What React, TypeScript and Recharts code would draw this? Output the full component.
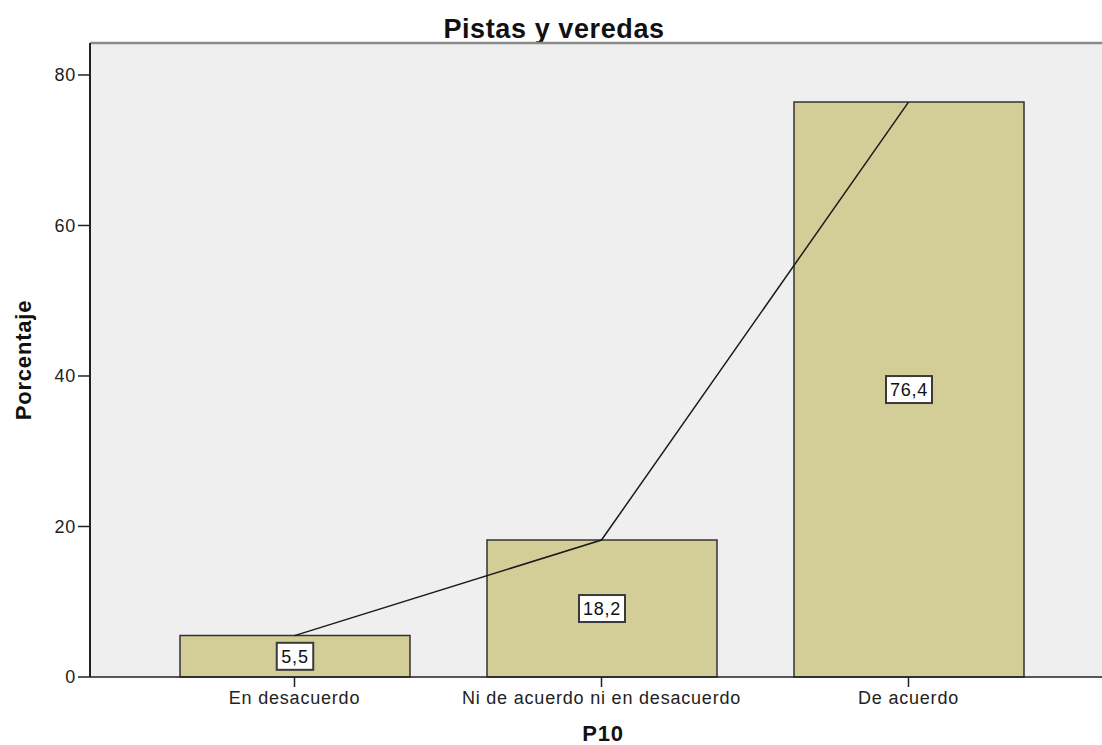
import React from "react";
import {
  Bar,
  CartesianGrid,
  ComposedChart,
  LabelList,
  Line,
  ReferenceLine,
  XAxis,
  YAxis,
} from "recharts";

const categories = ["En desacuerdo", "Ni de acuerdo ni en desacuerdo", "De acuerdo"];
const percents = [5.5, 18.2, 76.4];
const yTicks = [0, 20, 40, 60, 80];
const yMax = 84.25;

const data = categories.map((name, i) => ({ name, value: percents[i] }));

const font = "'Liberation Sans', Arial, sans-serif";
const ink = "#222";

const fmt = (v: number) => v.toFixed(1).replace(".", ",");

function ValueBox(props: any) {
  const { x, y, width, height, value } = props;
  const cx = Number(x) + Number(width) / 2;
  const cy = Number(y) + Number(height) / 2;
  const text = fmt(Number(value));
  const w = text.length * 9.5 + 8;
  const h = 27;
  return (
    <g>
      <rect
        x={cx - w / 2}
        y={cy - h / 2}
        width={w}
        height={h}
        fill="#fff"
        stroke="#3a3a3a"
        strokeWidth={2}
      />
      <text
        x={cx}
        y={cy}
        dy="0.36em"
        textAnchor="middle"
        fontFamily={font}
        fontSize={18}
        letterSpacing={0.8}
        fill="#111"
      >
        {text}
      </text>
    </g>
  );
}

export default function App() {
  return (
    <div style={{ position: "absolute", left: 0, top: 0, width: 1102, height: 745, background: "#fff" }}>
      <div
        style={{
          position: "absolute",
          left: 0,
          width: 1108,
          top: 13,
          textAlign: "center",
          fontFamily: font,
          fontWeight: "bold",
          fontSize: 27,
          letterSpacing: 0.6,
          color: "#111",
          lineHeight: "32px",
        }}
      >
        Pistas y veredas
      </div>
      <ComposedChart
        width={1102}
        height={745}
        data={data}
        margin={{ top: 43, right: 0, bottom: 0, left: 0 }}
        style={{ fontFamily: font }}
      >
        <CartesianGrid fill="#efefef" stroke="none" horizontal={false} vertical={false} />
        <XAxis
          dataKey="name"
          height={68}
          padding={{ left: 51, right: 40 }}
          interval={0}
          tickSize={10}
          tickMargin={4}
          axisLine={{ stroke: ink, strokeWidth: 1.5 }}
          tickLine={{ stroke: ink, strokeWidth: 1.5 }}
          tick={{ fill: ink, fontSize: 18, fontFamily: font, letterSpacing: 0.8 }}
          label={{
            content: () => (
              <text x={603} y={741} textAnchor="middle" fontFamily={font} fontWeight="bold" fontSize={22} letterSpacing={0.8} fill="#111">
                P10
              </text>
            ),
          }}
        />
        <YAxis
          width={90}
          domain={[0, yMax]}
          ticks={yTicks}
          tickSize={12}
          tickMargin={2}
          axisLine={{ stroke: ink, strokeWidth: 2 }}
          tickLine={{ stroke: ink, strokeWidth: 1.5 }}
          tick={{ fill: ink, fontSize: 18, fontFamily: font, letterSpacing: 0.8 }}
          label={{
            content: () => (
              <text
                x={31}
                y={360}
                transform="rotate(-90, 31, 360)"
                textAnchor="middle"
                fontFamily={font}
                fontWeight="bold"
                fontSize={22}
                letterSpacing={0.8}
                fill="#111"
              >
                Porcentaje
              </text>
            ),
          }}
        />
        <ReferenceLine y={yMax} stroke="#8a8a8a" strokeWidth={2.5} />
        <Bar dataKey="value" barSize={230} fill="#d3ce98" stroke="#333" strokeWidth={1.5} isAnimationActive={false}>
          <LabelList dataKey="value" content={ValueBox} />
        </Bar>
        <Line
          type="linear"
          dataKey="value"
          stroke="#1a1a1a"
          strokeWidth={1.5}
          dot={false}
          activeDot={false}
          isAnimationActive={false}
        />
      </ComposedChart>
    </div>
  );
}
